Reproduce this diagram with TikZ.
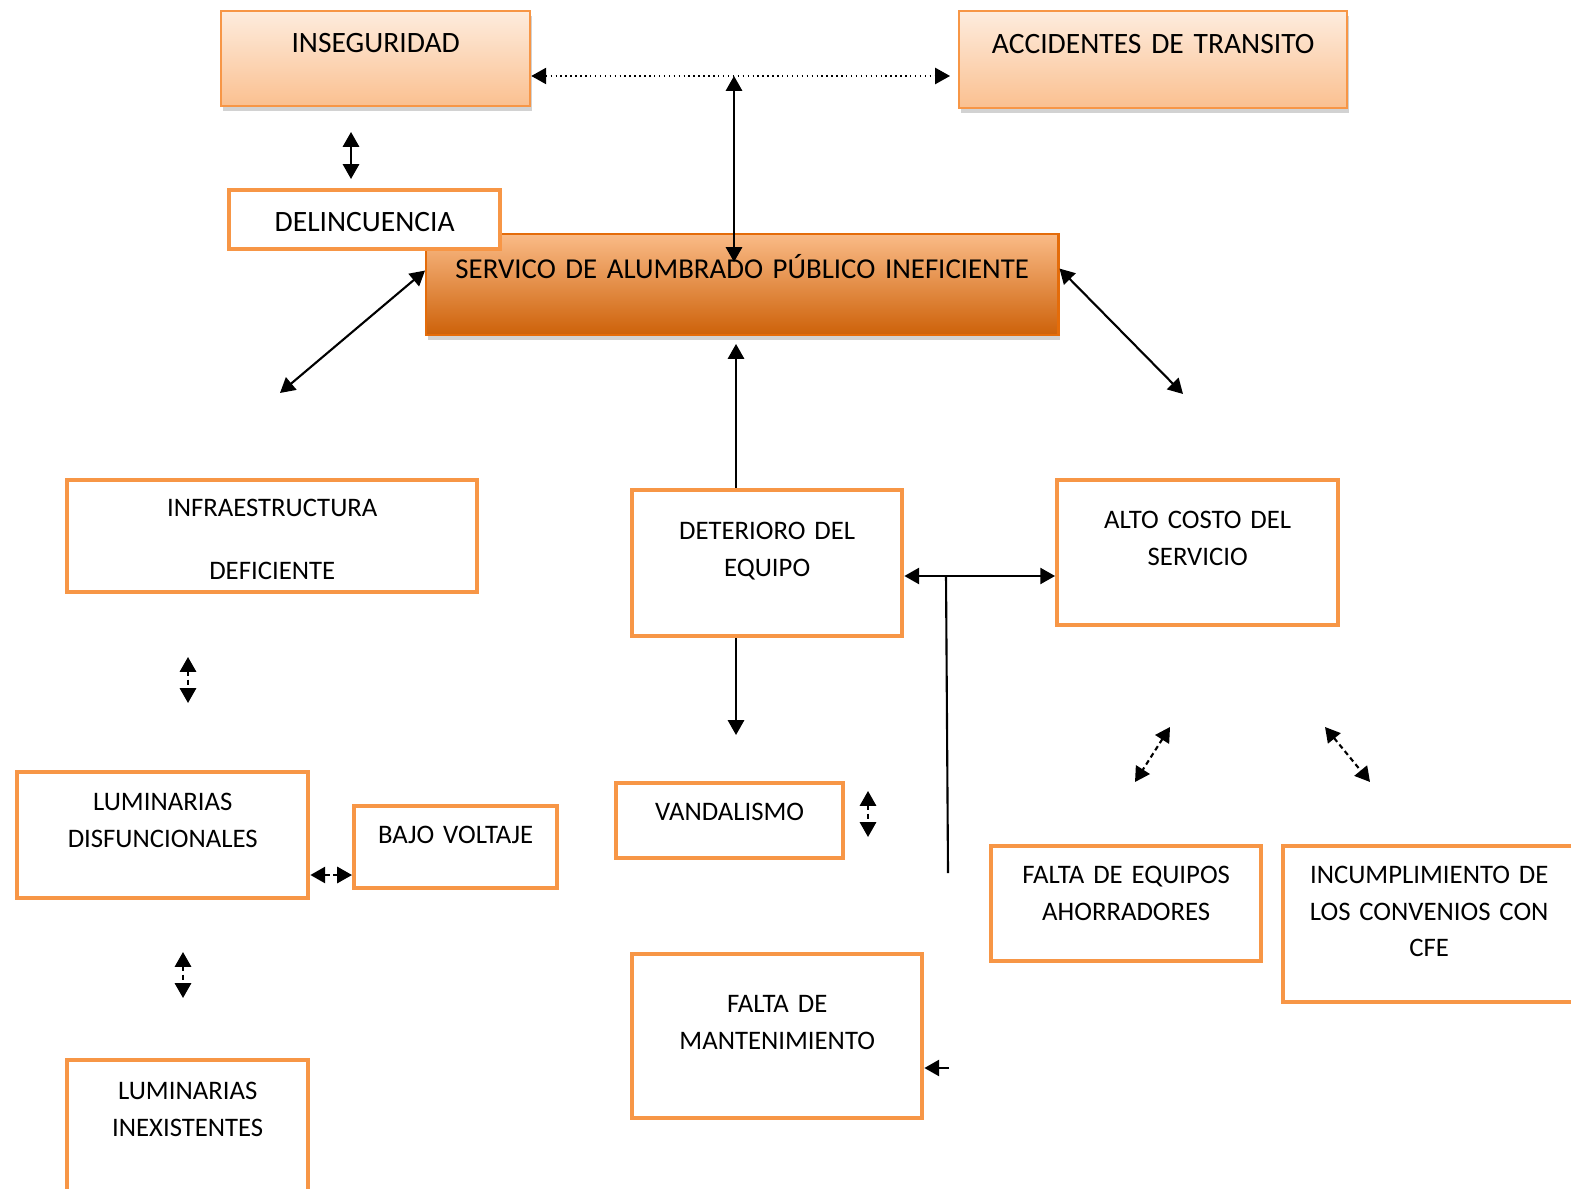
\documentclass[tikz,border=0pt]{standalone}
\usepackage{fontspec}
\setmainfont{Carlito}[WordSpace=0.85]
\usetikzlibrary{arrows.meta,shadows}
\definecolor{naranja}{HTML}{F79646}
\definecolor{naranjaosc}{HTML}{E46C0A}

\begin{document}
\begin{tikzpicture}[x=0.01cm, y=-0.01cm,
    caja/.style={draw=naranja, line width=1.2pt, fill=white, inner sep=0pt, align=center,
      anchor=north west, font=\fontsize{7.6}{10.5}\selectfont},
    cajasup/.style={draw=naranja, line width=0.6pt, inner sep=0pt, align=center,
      anchor=north west, font=\fontsize{8.4}{10}\selectfont, top color=naranja!18,
      bottom color=naranja!60,
      drop shadow={shadow xshift=0.5pt, shadow yshift=-1.5pt, opacity=0.35}},
    flecha/.style={-{Triangle[length=4.2pt,width=4.6pt]}, line width=0.6pt},
    flechas/.style={{Triangle[length=4.2pt,width=4.6pt]}-{Triangle[length=4.2pt,width=4.6pt]}, line width=0.6pt},
    discont/.style={flechas, dash pattern=on 1.4pt off 1pt}]
  \path[fill=white, use as bounding box] (0,0) rectangle (1571,1189);

  \node[cajasup, text width=3.09cm, text height=0.41cm, text depth=0.54cm] (inseg) at (220,10) {INSEGURIDAD};
  \node[cajasup, text width=3.88cm, text height=0.42cm, text depth=0.55cm] (accid) at (958,10) {ACCIDENTES DE TRANSITO};
  \node[cajasup, draw=naranjaosc, top color=naranja!65, bottom color=naranjaosc!90!black,
    font=\fontsize{8.2}{10}\selectfont,
    text width=6.32cm, text height=0.44cm, text depth=0.57cm] (serv) at (425,233)
    {SERVICO DE ALUMBRADO PÚBLICO INEFICIENTE};
  \node[caja, font=\fontsize{8.4}{10}\selectfont, text width=2.71cm, text height=0.41cm, text depth=0.18cm] (delin) at (227,188) {DELINCUENCIA};

  \node[caja, text width=4.10cm, text height=0.36cm, text depth=0.76cm] (infra) at (65,478) {INFRAESTRUCTURA\\[7.5pt]DEFICIENTE};
  \node[caja, text width=2.70cm, text height=0.49cm, text depth=0.97cm] (deter) at (630,488) {DETERIORO DEL\\EQUIPO};
  \node[caja, text width=2.81cm, text height=0.48cm, text depth=0.97cm] (alto) at (1055,478) {ALTO COSTO DEL\\SERVICIO};
  \node[caja, text width=2.91cm, text height=0.38cm, text depth=0.88cm] (disf) at (15,770) {LUMINARIAS\\DISFUNCIONALES};
  \node[caja, text width=2.03cm, text height=0.37cm, text depth=0.45cm] (bajo) at (352,804) {BAJO VOLTAJE};
  \node[caja, text width=2.27cm, text height=0.37cm, text depth=0.38cm] (vand) at (614,781) {VANDALISMO};
  \node[caja, text width=2.70cm, text height=0.37cm, text depth=0.78cm] (ahorro) at (989,844) {FALTA DE EQUIPOS\\AHORRADORES};
  \node[caja, text width=2.92cm, text height=0.37cm, text depth=1.19cm] (cfe) at (1281,844) {INCUMPLIMIENTO DE\\LOS CONVENIOS CON\\CFE};
  \node[caja, text width=2.90cm, text height=0.58cm, text depth=1.06cm] (mant) at (630,952) {FALTA DE\\MANTENIMIENTO};
  \node[caja, text width=2.41cm, text height=0.39cm, text depth=0.96cm] (inex) at (65,1058) {LUMINARIAS\\INEXISTENTES};

  \coordinate (eje) at (734,76);
  \coordinate (ejeB) at (734,262);
  \coordinate (d1) at (351,132);
  \coordinate (d2) at (351,179);
  \coordinate (izq) at (280,393);
  \coordinate (der) at (1183,394);
  \coordinate (arriba) at (736,344);
  \coordinate (abajo) at (736,735);
  \coordinate (union) at (946,576);
  \coordinate (union2) at (948,873);
  \coordinate (bv) at (330,875);
  \coordinate (inf1) at (188,657);
  \coordinate (inf2) at (188,703);
  \coordinate (van1) at (868,791);
  \coordinate (van2) at (868,837);
  \coordinate (alt1) at (1170,727);
  \coordinate (alt2) at (1135,782);
  \coordinate (alt3) at (1325,727);
  \coordinate (alt4) at (1370,782);
  \coordinate (dis1) at (183,952);
  \coordinate (dis2) at (183,998);
  \coordinate (man1) at (949,1068);

  \draw[flechas, line width=0.4pt, densely dotted, shorten >=0.08cm] (inseg.east |- eje) -- (accid.west |- eje);
  \draw[flechas] (eje) -- (ejeB);
  \draw[flechas] (d1) -- (d2);
  \draw[flechas] ([yshift=0.14cm]serv.west) -- (izq);
  \draw[flechas] ([yshift=0.16cm]serv.east) -- (der);
  \draw[flecha] (arriba |- deter.north) -- (arriba);
  \draw[flecha] (abajo |- deter.south) -- (abajo);
  \draw[flechas] (deter.east |- union) -- (alto.west |- union);
  \draw[line width=0.6pt] (union) -- (union2);
  \draw[discont] (inf1) -- (inf2);
  \draw[discont] (van1) -- (van2);
  \draw[discont] (alt1) -- (alt2);
  \draw[discont] (alt3) -- (alt4);
  \draw[discont] (disf.east |- bv) -- (bajo.west |- bv);
  \draw[discont] (dis1) -- (dis2);
  \draw[flecha] (man1) -- (mant.east |- man1);
\end{tikzpicture}
\end{document}
